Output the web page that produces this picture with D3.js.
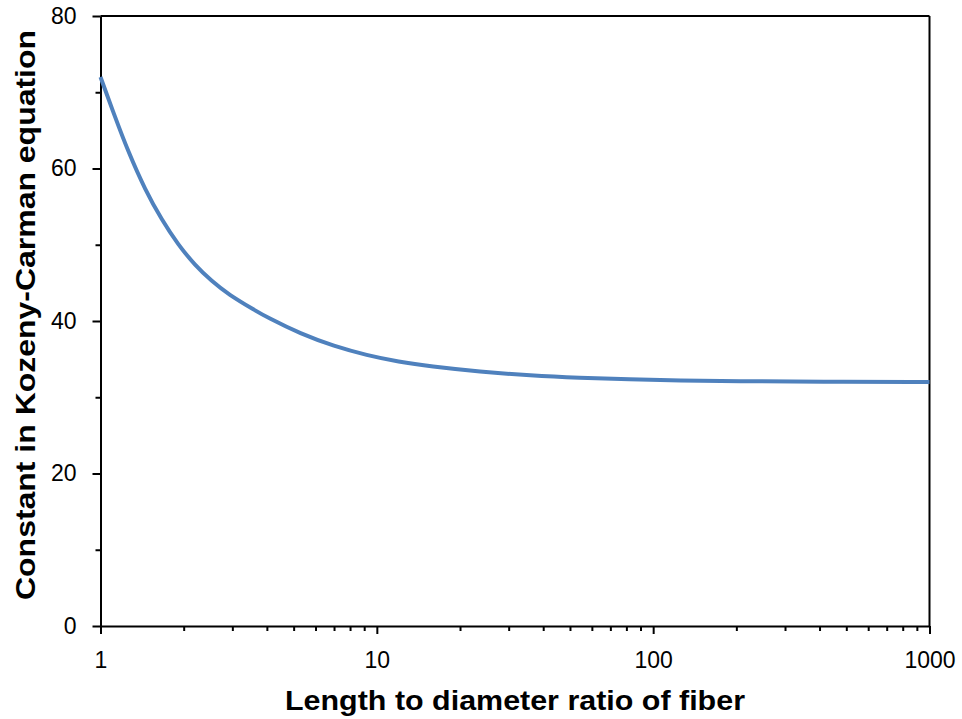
<!DOCTYPE html>
<html>
<head>
<meta charset="utf-8">
<script src="https://cdn.jsdelivr.net/npm/d3@7"></script>
<style>
  body { margin: 0; background: #fff; }
  svg { display: block; }
  .axis text { font-family: "Liberation Sans", Arial, sans-serif; font-size: 23px; fill: #000; }
  .axis path, .axis line { stroke: #000; stroke-width: 2px; }
  .title { font-family: "Liberation Sans", Arial, sans-serif; font-weight: bold; font-size: 27px; fill: #000; }
</style>
</head>
<body>
<div id="chart"></div>
<script>
// values
var ratio = [1, 1.13, 1.26, 1.45, 1.67, 1.91, 2.2, 2.53, 2.9, 3.62, 4, 5.3, 7, 9.2, 12, 15.6, 23.6, 36, 54, 82, 125, 200, 400, 1000];
var constant = [72, 66.7, 62.2, 57.2, 53.2, 50.0, 47.3, 45.2, 43.5, 41.4, 40.5, 38.3, 36.7, 35.5, 34.65, 34.05, 33.35, 32.85, 32.55, 32.35, 32.2, 32.1, 32.03, 32.0];

var xMajor = [1, 10, 100, 1000];
var xMinor = [2, 3, 4, 5, 6, 7, 8, 9, 20, 30, 40, 50, 60, 70, 80, 90, 200, 300, 400, 500, 600, 700, 800, 900];
var yMajor = [0, 20, 40, 60, 80];
var yMinor = [10, 30, 50, 70];

var width = 962, height = 719;
var margin = { top: 16, right: 32.5, bottom: 93, left: 100.5 };
var w = width - margin.left - margin.right;
var h = height - margin.top - margin.bottom;

var svg = d3.select("#chart").append("svg")
    .attr("width", width)
    .attr("height", height);

var g = svg.append("g")
    .attr("transform", "translate(" + margin.left + "," + margin.top + ")");

var x = d3.scaleLog().domain([1, 1000]).range([0, w]);
var y = d3.scaleLinear().domain([0, 80]).range([h, 0]);

// frame: top and right borders
g.append("line").attr("x1", 0).attr("x2", w).attr("y1", 0).attr("y2", 0)
    .attr("stroke", "#000").attr("stroke-width", 2);
g.append("line").attr("x1", w).attr("x2", w).attr("y1", 0).attr("y2", h)
    .attr("stroke", "#000").attr("stroke-width", 2);

// y axis
g.append("g").attr("class", "axis")
    .call(d3.axisLeft(y).tickValues(yMinor).tickSize(5).tickFormat(""))
    .select(".domain").remove();
g.append("g").attr("class", "axis")
    .call(d3.axisLeft(y).tickValues(yMajor).tickSize(8).tickPadding(16).tickSizeOuter(0).tickFormat(d3.format("d")));

// x axis
g.append("g").attr("class", "axis")
    .attr("transform", "translate(0," + h + ")")
    .call(d3.axisBottom(x).tickValues(xMinor).tickSize(5).tickFormat(""))
    .select(".domain").remove();
g.append("g").attr("class", "axis")
    .attr("transform", "translate(0," + h + ")")
    .call(d3.axisBottom(x).tickValues(xMajor).tickSize(8).tickPadding(18).tickSizeOuter(0).tickFormat(d3.format("d")));

// curve
var data = ratio.map(function (r, i) { return { r: r, k: constant[i] }; });
var line = d3.line()
    .x(function (d) { return x(d.r); })
    .y(function (d) { return y(d.k); })
    .curve(d3.curveBasis);

g.append("path")
    .datum(data)
    .attr("d", line)
    .attr("fill", "none")
    .attr("stroke", "#4F81BD")
    .attr("stroke-width", 4);

// titles
svg.append("text").attr("class", "title")
    .attr("x", margin.left + w / 2)
    .attr("y", 710)
    .attr("text-anchor", "middle")
    .attr("textLength", 460)
    .attr("lengthAdjust", "spacingAndGlyphs")
    .text("Length to diameter ratio of fiber");

svg.append("text").attr("class", "title")
    .attr("transform", "translate(35," + 315 + ") rotate(-90)")
    .attr("text-anchor", "middle")
    .attr("textLength", 570)
    .attr("lengthAdjust", "spacingAndGlyphs")
    .text("Constant in Kozeny-Carman equation");
</script>
</body>
</html>
